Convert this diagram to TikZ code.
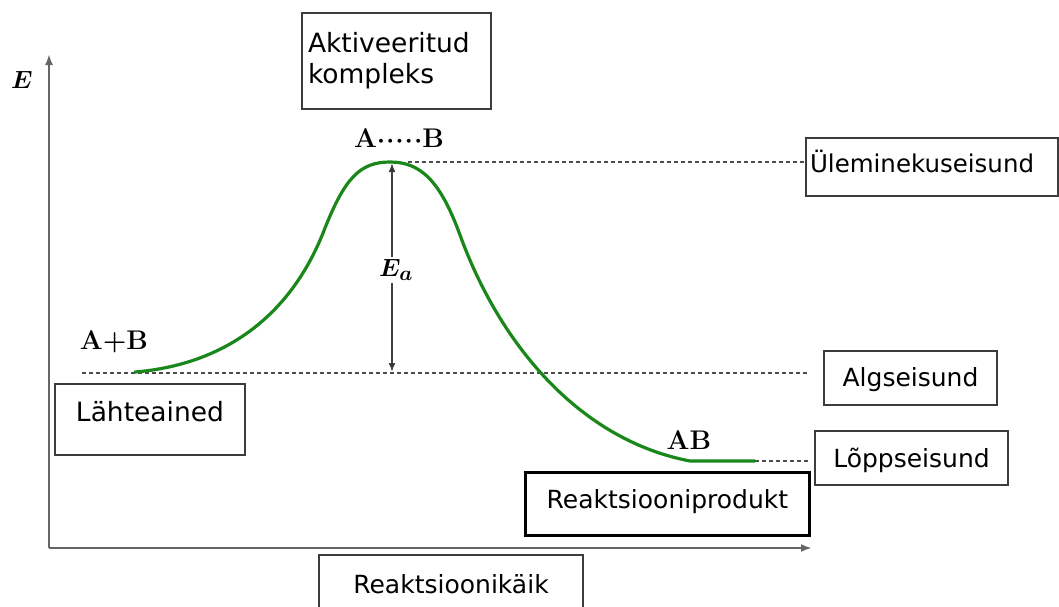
\documentclass[tikz,border=0pt]{standalone}
\usepackage{fontspec}
\usepackage{bm}
\newfontfamily\vf{DejaVu Sans}
\usetikzlibrary{arrows.meta}
\definecolor{curvegreen}{RGB}{25,135,25}
\definecolor{boxgray}{RGB}{60,60,60}
\begin{document}
\begin{tikzpicture}[x=1pt,y=-1pt,
  box/.style={draw=boxgray,line width=2pt,inner sep=0pt,anchor=north west,
    font=\vf\fontsize{25}{30}\selectfont,align=center},
  lvl/.style={dash pattern=on 4pt off 3pt,line width=1.5pt,draw=black!70},
  axis/.style={line width=2.4pt,draw=black!60,-{Latex[length=11pt,width=8pt,fill=black!85]}},
  ea/.style={line width=1.6pt,draw=black!75,-{Latex[length=9pt,width=7pt,fill=black]}},
  lab/.style={font=\fontsize{27}{30}\selectfont\bfseries,inner sep=0pt},
]
\useasboundingbox (0,0) rectangle (1059,606);

% coordinates
\coordinate (O) at (49,548);
\coordinate (ytip) at (49,54);
\coordinate (xtip) at (812,548);
\coordinate (start) at (135,372);
\coordinate (peak) at (390,162);
\coordinate (pk2) at (408,162);
\coordinate (endc) at (690,461);
\coordinate (flat) at (755,461);
\coordinate (alg0) at (82,373);
\coordinate (alg1) at (808,373);
\coordinate (lop1) at (808,461);
\coordinate (eatop) at (392,163);
\coordinate (eabot) at (392,372);

% axes
\draw[axis] (O) -- (ytip);
\draw[axis] (O) -- (xtip);
\node[font=\fontsize{30}{32}\selectfont,inner sep=0pt] (E) at (22,80) {$\bm{E}$};

% boxes
\node[box,font=\vf\fontsize{26.5}{31}\selectfont,text width=177pt,align=left,minimum width=189pt,minimum height=96pt] (akt) at (301,12)
  {Aktiveeritud\\kompleks};
\node[box,font=\vf\fontsize{24.5}{30}\selectfont,text width=244pt,align=left,minimum width=252pt,text height=34pt,text depth=24pt] (ulem) at (805,137)
  {Üleminekuseisund};
\node[box,minimum width=173pt,text height=35pt,text depth=19pt] (alg) at (823,350) {Algseisund};
\node[box,minimum width=193pt,text height=36pt,text depth=18pt] (lopp) at (814,430) {Lõppseisund};
\node[box,draw=black,line width=2.8pt,minimum width=284pt,text height=36pt,text depth=27pt] (prod) at (524,471) {Reaktsiooniprodukt};
\node[box,font=\vf\fontsize{26.5}{30}\selectfont,minimum width=190pt,text height=37pt,text depth=34pt] (lahte) at (54,383) {Lähteained};
\node[box,minimum width=264pt,text height=38pt,text depth=40pt] (kaik) at (318,554) {Reaktsioonikäik};

% dashed levels
\draw[lvl] (pk2) -- (pk2 -| ulem.west);
\draw[lvl] (alg0) -- (alg1);
\draw[lvl] (flat) -- (lop1);

% curve
\draw[curvegreen,line width=3.2pt,line cap=round]
  (start) .. controls (220,365) and (290,320) .. (325,228)
  .. controls (345,178) and (360,162) .. (peak)
  .. controls (420,162) and (440,180) .. (460,235)
  .. controls (500,345) and (580,440) .. (endc) -- (flat);

% labels
\node[lab] (ab0) at (114,342) {A+B};
\node[lab] (abt) at (399,138) {A$\bm{\cdot\!\cdot\!\cdot\!\cdot\!\cdot}$B};
\node[lab] (abp) at (689,440) {AB};

% activation energy
\node[font=\fontsize{32}{34}\selectfont,inner sep=2pt] (Ea) at (396,270) {$\bm{E_a}$};
\draw[ea] (Ea.north -| eatop) -- (eatop);
\draw[ea] (Ea.south -| eabot) -- (eabot);
\end{tikzpicture}
\end{document}
